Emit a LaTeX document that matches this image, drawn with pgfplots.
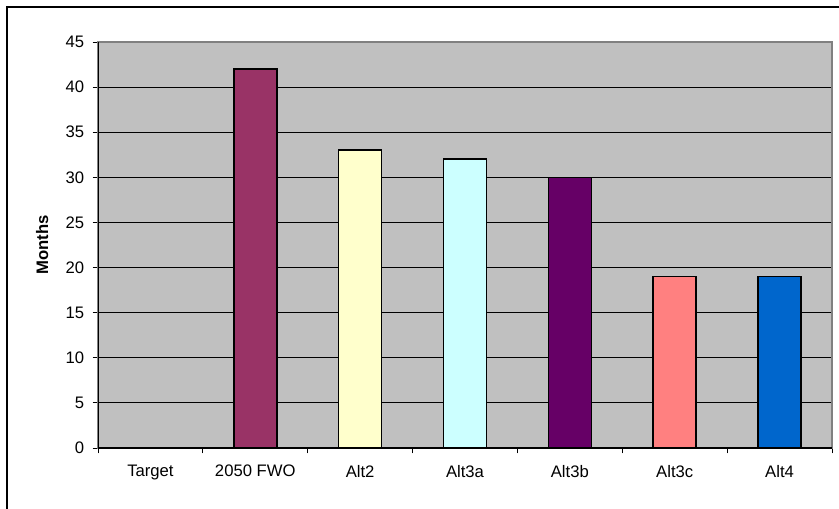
\documentclass[border=0pt]{standalone}
\usepackage{fontspec}
\setmainfont{Liberation Sans}
\usepackage{pgfplots}
\pgfplotsset{compat=1.18}
\definecolor{plotbg}{HTML}{C0C0C0}
\definecolor{cA}{HTML}{993366}
\definecolor{cB}{HTML}{FFFFCC}
\definecolor{cC}{HTML}{CCFFFF}
\definecolor{cD}{HTML}{660066}
\definecolor{cE}{HTML}{FF8080}
\definecolor{cF}{HTML}{0066CC}
\begin{document}
\fontsize{12.5pt}{14pt}\selectfont
\begin{tikzpicture}
\useasboundingbox (0,0) rectangle (629.25pt,-381pt);
\draw[line width=1.4pt] (5.25pt,-390pt) -- (5.25pt,-5.25pt) -- (640pt,-5.25pt);
\begin{axis}[
  at={(73.5pt,-336pt)}, anchor=south west,
  scale only axis, width=550.5pt, height=304.5pt,
  ymin=0, ymax=45, ytick={0,5,...,45},
  xmin=-0.5, xmax=6.5,
  xtick={-0.5,0.5,...,6.5},
  xticklabels={},
  extra x ticks={0,...,6},
  extra x tick labels={Target,2050 FWO,Alt2,Alt3a,Alt3b,Alt3c,Alt4},
  extra x tick style={major tick length=0pt, xticklabel style={yshift=-8.5pt}},
  xtick pos=bottom, ytick pos=left,
  major tick length=4pt,
  tick align=outside,
  tick style={black, line width=0.6pt},
  ymajorgrids, grid style={black, line width=0.6pt},
  axis background/.style={fill=plotbg},
  axis line style={draw=gray, line width=1pt},
  /pgf/number format/assume math mode=true,
  tick label style={font=\fontsize{12.5pt}{14pt}\selectfont},
  yticklabel style={xshift=-2pt},
  ylabel={\bfseries Months},
  every axis y label/.style={at={(axis description cs:-0.0762,0.5)}, rotate=90, anchor=center, font=\fontsize{12.5pt}{14pt}\selectfont},
  ybar, bar width=32.25pt,
  every axis plot/.append style={bar shift=0pt, draw=black, line width=1.2pt},
]
\addplot[fill=cA] coordinates {(0,0)};
\addplot[fill=cA] coordinates {(1,42)};
\addplot[fill=cB] coordinates {(2,33)};
\addplot[fill=cC] coordinates {(3,32)};
\addplot[fill=cD] coordinates {(4,30)};
\addplot[fill=cE] coordinates {(5,19)};
\addplot[fill=cF] coordinates {(6,19)};
\draw[black, line width=1pt] (rel axis cs:0,1) -- (rel axis cs:0,0) -- (rel axis cs:1,0);
\end{axis}
\end{tikzpicture}
\end{document}
